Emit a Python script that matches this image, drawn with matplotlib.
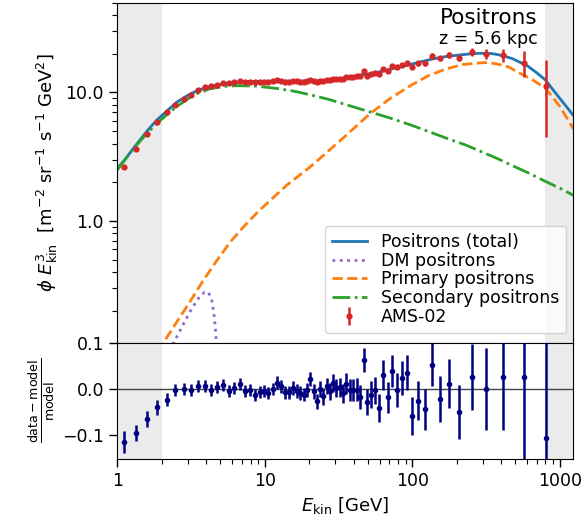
"""Positron flux (E^3 weighted) with model components and residuals."""

import matplotlib

matplotlib.use("Agg")
import matplotlib.pyplot as plt
import numpy as np

# AMS-02 positron data
ams_energy = [
    1.116, 1.339, 1.58, 1.86, 2.16, 2.47, 2.82, 3.16, 3.54, 3.93,
    4.32, 4.72, 5.23, 5.72, 6.21, 6.79, 7.34, 7.94, 8.54, 9.23,
    9.84, 10.5, 11.3, 12.1, 12.9, 13.7, 14.5, 15.5, 16.5, 17.3,
    18.4, 19.4, 20.3, 21.5, 22.5, 23.7, 25.0, 26.3, 27.6, 28.9,
    30.6, 32.2, 33.9, 35.7, 37.6, 39.6, 41.9, 44.3, 46.7, 49.7,
    52.8, 56.0, 59.7, 63.6, 68.1, 72.8, 78.4, 84.8, 91.6, 100.1,
    110, 122, 136, 154, 178, 209, 254, 316, 415, 569, 801,
]
ams_flux = [
    2.63, 3.60, 4.73, 5.87, 6.99, 8.06, 8.92, 9.64, 10.37, 11.0,
    11.26, 11.5, 11.8, 11.9, 12.0, 12.2, 12.1, 12.15, 12.03, 12.11,
    12.15, 12.1, 12.22, 12.4, 12.3, 12.15, 12.15, 12.27, 12.2, 12.15,
    12.1, 12.27, 12.57, 12.24, 11.98, 12.35, 12.2, 12.5, 12.44, 12.7,
    12.68, 12.8, 12.73, 13.15, 13.12, 13.27, 13.42, 13.36, 14.6, 13.55,
    13.95, 14.25, 13.95, 15.2, 14.8, 16.0, 15.67, 16.35, 16.85, 15.8,
    16.9, 16.95, 19.25, 18.4, 19.5, 18.7, 20.55, 20.1, 19.5, 17.0, 11.2,
]
# relative uncertainty (also the residual error bar)
ams_rel_err = [
    0.023, 0.018, 0.018, 0.016, 0.014, 0.013, 0.013, 0.013, 0.013, 0.013,
    0.013, 0.013, 0.013, 0.013, 0.013, 0.013, 0.013, 0.013, 0.013, 0.013,
    0.013, 0.013, 0.014, 0.014, 0.014, 0.014, 0.014, 0.015, 0.015, 0.015,
    0.015, 0.016, 0.016, 0.016, 0.017, 0.017, 0.018, 0.018, 0.019, 0.019,
    0.020, 0.021, 0.021, 0.022, 0.023, 0.024, 0.025, 0.026, 0.027, 0.028,
    0.029, 0.030, 0.031, 0.032, 0.034, 0.035, 0.036, 0.037, 0.038, 0.041,
    0.042, 0.044, 0.047, 0.050, 0.054, 0.058, 0.072, 0.089, 0.115, 0.23, 0.6,
]
residual = [
    -0.115, -0.096, -0.065, -0.040, -0.023, -0.002, 0.0, -0.002, 0.006, 0.006,
    -0.003, 0.004, 0.009, -0.004, 0.002, 0.011, -0.004, -0.002, -0.014, -0.007,
    -0.004, -0.008, 0.0, 0.014, 0.006, -0.007, -0.007, 0.002, -0.005, -0.009,
    -0.012, -0.002, 0.022, -0.005, -0.027, 0.0, -0.016, 0.007, -0.005, 0.013,
    0.002, 0.004, -0.009, 0.012, -0.002, -0.002, -0.002, -0.018, 0.063, -0.029,
    -0.012, -0.003, -0.041, 0.030, -0.018, 0.040, -0.002, 0.024, 0.035, -0.058,
    -0.025, -0.044, 0.053, -0.021, 0.012, -0.050, 0.026, 0.0, 0.026, 0.026, -0.106,
]

# Model curves
total_e = [1.0, 1.116, 1.35, 1.6, 1.85, 2.16, 2.53, 3.0, 3.46, 4.0, 5.0, 6.0,
           7.2, 9.0, 12, 16, 20, 25, 30, 35, 40, 46, 53, 60, 70, 80, 92, 105,
           120, 140, 171, 210, 250, 290, 340, 374, 420, 480, 536, 600, 700,
           800, 900, 1000, 1100, 1240]
total_flux = [2.56, 2.97, 3.95, 5.05, 6.1, 7.15, 8.4, 9.5, 10.3, 10.95, 11.55,
              11.9, 12.15, 12.2, 12.25, 12.25, 12.3, 12.4, 12.65, 12.95, 13.3,
              13.7, 14.1, 14.5, 15.1, 15.7, 16.3, 16.9, 17.6, 18.3, 19.1, 19.6,
              20.0, 20.2, 20.1, 19.8, 19.2, 18.3, 17.2, 16.2, 14.2, 12.5, 10.5,
              9.0, 7.86, 6.6]

dm_e = [2.2, 2.4, 2.53, 2.8, 3.11, 3.49, 3.9, 4.14, 4.37, 4.52, 4.62, 4.68, 4.72]
dm_flux = [0.085, 0.112, 0.125, 0.157, 0.196, 0.244, 0.279, 0.279, 0.24,
           0.189, 0.148, 0.119, 0.10]

primary_e = [1.9, 2.05, 2.5, 3.11, 3.8, 4.72, 5.8, 7.18, 9.0, 11.2, 14.1, 20.3,
             34.2, 51.8, 70, 97, 130, 171, 220, 287, 322, 374, 450, 536, 650,
             800, 1000, 1240]
primary_flux = [0.095, 0.112, 0.160, 0.235, 0.34, 0.49, 0.68, 0.90, 1.18, 1.49,
                1.9, 2.63, 4.45, 6.85, 8.9, 11.3, 13.6, 15.3, 16.5, 17.0, 17.1,
                16.7, 15.8, 14.1, 12.6, 10.8, 7.8, 5.2]

secondary_e = [1.0, 1.3, 1.6, 2.0, 2.5, 3.3, 4.26, 5.3, 6.45, 8.8, 12.1, 16.0,
               20.3, 27.0, 34.2, 51.8, 70, 97, 130, 171, 230, 287, 380, 482,
               620, 800, 1000, 1240]
secondary_flux = [2.5, 3.7, 4.85, 6.2, 7.7, 9.6, 10.7, 11.15, 11.3, 11.2, 10.75,
                  10.2, 9.6, 8.85, 8.15, 7.05, 6.35, 5.6, 4.95, 4.4, 3.9, 3.5,
                  3.05, 2.68, 2.35, 2.03, 1.8, 1.58]

plt.rcParams["font.size"] = 12.5


def minus_fmt(val, pos):
    return f"{val:.1f}".replace("-", "\u2212")


fig = plt.figure(figsize=(5.86, 5.24), dpi=100)
ax = fig.add_axes([0.2002, 0.3454, 0.7781, 0.6494])
rax = fig.add_axes([0.2002, 0.125, 0.7781, 0.2204], sharex=ax)

shade = "#ebebeb"
for a in (ax, rax):
    a.axvspan(1.0, 2.0, color=shade, lw=0, zorder=0)
    a.axvspan(800, 2000, color=shade, lw=0, zorder=0)

ax.plot(total_e, total_flux, color="C0", lw=2, label="Positrons (total)")
ax.plot(dm_e, dm_flux, color="C4", lw=2, ls=":", label="DM positrons")
ax.plot(primary_e, primary_flux, color="C1", lw=2, ls="--", label="Primary positrons")
ax.plot(secondary_e, secondary_flux, color="C2", lw=2, ls="-.", label="Secondary positrons")

flux_err = np.array(ams_rel_err) * np.array(ams_flux)
ax.errorbar(ams_energy, ams_flux, yerr=flux_err, fmt="o", color="C3",
            ms=3.5, elinewidth=1.8, capsize=0, label="AMS-02", zorder=5)

ax.set_xscale("log")
ax.set_yscale("log")
ax.set_xlim(1.0, 1235)
ax.set_ylim(0.112, 50)
ax.yaxis.set_major_formatter(matplotlib.ticker.FuncFormatter(minus_fmt))
ax.yaxis.set_minor_formatter(matplotlib.ticker.NullFormatter())
ax.tick_params(axis="x", which="both", bottom=False, labelbottom=False)
ax.tick_params(axis="y", which="major", length=6, width=1)
ax.tick_params(axis="y", which="minor", length=3.5, width=0.8)
ax.set_ylabel(r"$\phi\ E_{\rm kin}^3$  [m$^{-2}$ sr$^{-1}$ s$^{-1}$ GeV$^2$]", fontsize=13)

ax.legend(loc="lower right", bbox_to_anchor=(0.984, 0.029), borderaxespad=0,
          fontsize=12.5, labelspacing=0.05, handlelength=2.0, framealpha=0.8)

ax.text(0.9226, 0.985, "Positrons", transform=ax.transAxes, ha="right", va="top",
        fontsize=15.5)
ax.text(0.9226, 0.92, "z = 5.6 kpc", transform=ax.transAxes, ha="right", va="top",
        fontsize=12.5)

# Residual panel
rax.axhline(0.0, color="#444444", lw=1, zorder=1)
rax.errorbar(ams_energy, residual, yerr=ams_rel_err, fmt="o", color="navy",
             ms=3, elinewidth=1.8, capsize=0, zorder=5)
rax.set_ylim(-0.151, 0.1)
rax.set_yticks([-0.1, 0.0, 0.1])
rax.yaxis.set_major_formatter(matplotlib.ticker.FuncFormatter(minus_fmt))
rax.tick_params(axis="both", which="major", length=6, width=1)
rax.tick_params(axis="x", which="minor", length=3.5, width=0.8)
rax.set_xticks([1, 10, 100, 1000])
rax.set_xticklabels(["1", "10", "100", "1000"])
rax.set_xlabel(r"$E_{\rm kin}$ [GeV]", fontsize=13)
rax.set_ylabel(r"$\frac{\rm data - model}{\rm model}$", fontsize=13)

OUTPUT_PATH = "out.png"
plt.savefig(OUTPUT_PATH, dpi=100)
print(f"Chart saved to {OUTPUT_PATH}")
plt.close()
